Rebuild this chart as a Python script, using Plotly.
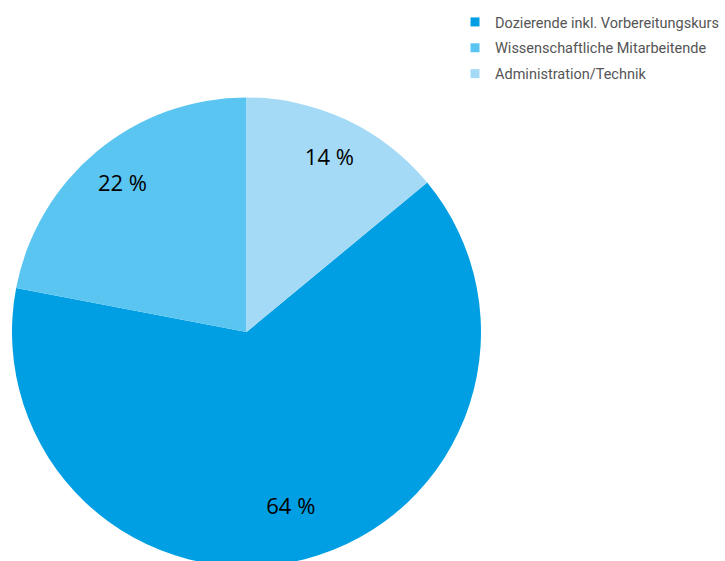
import plotly.graph_objects as go

labels = ["Dozierende inkl. Vorbereitungskurs", "Wissenschaftliche Mitarbeitende", "Administration/Technik"]
values = [64, 22, 14]
colors = ["#009FE3", "#5BC5F2", "#A5DAF7"]
text_labels = ["64 %", "22 %", "14 %"]

W, H = 725, 600
dom = dict(x=[12 / W, 481 / W], y=[(H - 566.5) / H, (H - 97.5) / H])

fig = go.Figure()
# coloured slices
fig.add_trace(go.Pie(
    labels=labels, values=values,
    textinfo="none",
    marker=dict(colors=colors, line=dict(width=0)),
    sort=False, direction="clockwise", rotation=50.4,
    hoverinfo="label+percent", showlegend=False, domain=dom,
))
# transparent rings carrying the percentage labels (large slice label sits a bit further in)
for hole, keep in [(0.66, {1, 2}), (0.52, {0})]:
    fig.add_trace(go.Pie(
        labels=labels, values=values,
        text=[t if i in keep else "" for i, t in enumerate(text_labels)],
        textinfo="text", textposition="inside",
        insidetextorientation="horizontal",
        textfont=dict(family="Open Sans", size=22, color="#000000"),
        marker=dict(colors=["rgba(0,0,0,0)"] * 3, line=dict(width=0)),
        hole=hole,
        sort=False, direction="clockwise", rotation=50.4,
        hoverinfo="skip", showlegend=False, domain=dom,
    ))
# legend entries
for i, (lab, col) in enumerate(zip(labels, colors)):
    fig.add_trace(go.Scatter(
        x=[None], y=[None], mode="markers", name=lab,
        marker=dict(symbol="square", size=9, color=col),
        legendgroup=f"g{i}", showlegend=True, hoverinfo="skip",
    ))

fig.update_layout(
    width=W, height=H,
    margin=dict(l=0, r=0, t=0, b=0),
    paper_bgcolor="white", plot_bgcolor="white",
    xaxis=dict(visible=False), yaxis=dict(visible=False),
    showlegend=True,
    legend=dict(
        x=455 / W, y=1 - 6 / H, xanchor="left", yanchor="top",
        font=dict(family="Roboto", size=14.5, color="#555555"),
        tracegroupgap=4, itemwidth=30,
        bgcolor="rgba(0,0,0,0)",
    ),
)

fig.write_html(
    "out.html",
    config=dict(displayModeBar=False),
    post_script="document.body.style.margin='0';document.body.style.overflow='hidden';document.documentElement.style.overflow='hidden';",
)
